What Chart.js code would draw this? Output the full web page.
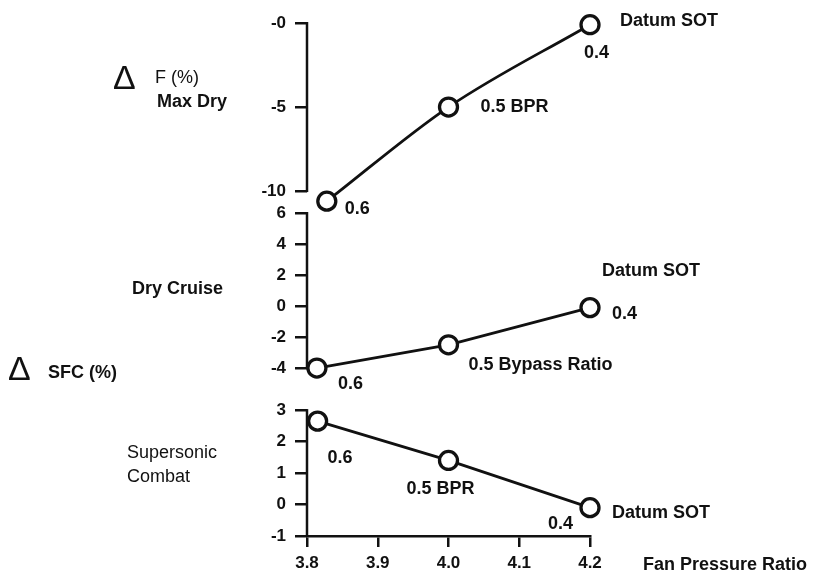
<!DOCTYPE html>
<html>
<head>
<meta charset="utf-8">
<title>Fan pressure ratio trade</title>
<script src="https://cdn.jsdelivr.net/npm/chart.js@4.4.1/dist/chart.umd.min.js"></script>
<style>
  html, body { margin: 0; padding: 0; background: #fff; }
  #wrap { width: 814px; height: 577px; }
</style>
</head>
<body>
<div id="wrap"><canvas id="fan-chart" width="814" height="577"></canvas></div>
<script>
// bypass ratio at each point of the sweep
const bprLabels = ['0.6', '0.5', '0.4'];

// max dry thrust change (%)
const maxDryFPR = [3.828, 4.0, 4.2];
const maxDryThrust = [-10.6, -5.0, -0.1];

// dry cruise SFC change (%)
const cruiseFPR = [3.814, 4.0, 4.2];
const cruiseSFC = [-4.0, -2.5, -0.1];

// supersonic combat SFC change (%)
const combatFPR = [3.815, 4.0, 4.2];
const combatSFC = [2.65, 1.4, -0.1];

const fprTicks = [3.8, 3.9, 4.0, 4.1, 4.2];
const thrustTicks = [0, -5, -10];
const thrustTickLabels = ['-0', '-5', '-10'];
const cruiseTicks = [6, 4, 2, 0, -2, -4];
const combatTicks = [3, 2, 1, 0, -1];

const INK = '#111';
const FONT = '"Liberation Sans", Arial, sans-serif';
Chart.defaults.font.family = FONT;
Chart.defaults.color = INK;

const toPoints = (xs, ys) => xs.map((x, i) => ({ x, y: ys[i] }));

function lineSet(xs, ys, axis, smooth) {
  return {
    data: toPoints(xs, ys),
    yAxisID: axis,
    borderColor: INK,
    borderWidth: 2.8,
    tension: smooth ? 0.4 : 0,
    cubicInterpolationMode: smooth ? 'monotone' : 'default',
    pointRadius: 9,
    pointBorderWidth: 3.3,
    pointBackgroundColor: '#fff',
    pointBorderColor: INK,
    clip: false
  };
}

// one stacked y scale per panel
function panelScale(ticks, labels, min, max, stackWeight, weight) {
  return {
    type: 'linear',
    position: 'left',
    stack: 'panels',
    stackWeight: stackWeight,
    weight: weight,
    min: min,
    max: max,
    border: { display: false },
    grid: { drawOnChartArea: false, tickLength: 12, lineWidth: 2.5, color: INK },
    ticks: {
      padding: 9,
      color: INK,
      autoSkip: false,
      font: { size: 17, weight: 'bold' },
      callback: (v, i) => labels ? labels[i] : String(v)
    },
    afterBuildTicks: s => { s.ticks = ticks.map(v => ({ value: v })); },
    afterFit: s => { s.width = 307; }
  };
}

// labels next to the points: [dataset, point, text, dx, dy]
const pointNotes = [
  [0, 2, 'Datum SOT', 30, -4],
  [0, 2, bprLabels[2], -6, 28],
  [0, 1, bprLabels[1] + ' BPR', 32, 0],
  [0, 0, bprLabels[0], 18, 8],
  [1, 2, 'Datum SOT', 12, -37],
  [1, 2, bprLabels[2], 22, 6],
  [1, 1, bprLabels[1] + ' Bypass Ratio', 20, 20],
  [1, 0, bprLabels[0], 21, 16],
  [2, 2, 'Datum SOT', 22, 5],
  [2, 2, bprLabels[2], -42, 16],
  [2, 1, bprLabels[1] + ' BPR', -42, 29],
  [2, 0, bprLabels[0], 10, 37]
];

const panelDecor = {
  id: 'panelDecor',
  afterDatasetsDraw(chart) {
    const ctx = chart.ctx;
    ctx.save();
    ctx.strokeStyle = INK;
    ctx.fillStyle = INK;

    // axis spine for each panel, only across its tick range
    [['yThrust', thrustTicks], ['yCruise', cruiseTicks], ['yCombat', combatTicks]].forEach(([id, t]) => {
      const s = chart.scales[id];
      ctx.lineWidth = 2.5;
      ctx.beginPath();
      ctx.moveTo(s.right, s.getPixelForValue(Math.max(...t)) - 1);
      ctx.lineTo(s.right, s.getPixelForValue(Math.min(...t)) + 1);
      ctx.stroke();
    });

    ctx.textBaseline = 'middle';
    ctx.textAlign = 'left';

    // point notes
    ctx.font = 'bold 18px ' + FONT;
    pointNotes.forEach(([ds, idx, text, dx, dy]) => {
      const p = chart.getDatasetMeta(ds).data[idx];
      ctx.fillText(text, p.x + dx, p.y + dy);
    });

    // x axis title, on the tick label row
    const xs = chart.scales.x;
    ctx.fillText('Fan Pressure Ratio', xs.right + 53, 565);

    // panel names and quantities
    ctx.font = '34px ' + FONT;
    ctx.fillText('\u0394', 113, 80);
    ctx.fillText('\u0394', 8, 371);

    ctx.font = '18px ' + FONT;
    ctx.fillText('F (%)', 155, 78);
    ctx.fillText('Supersonic', 127, 453);
    ctx.fillText('Combat', 127, 477);

    ctx.font = 'bold 18px ' + FONT;
    ctx.fillText('Max Dry', 157, 102);
    ctx.fillText('Dry Cruise', 132, 289);
    ctx.fillText('SFC (%)', 48, 373);

    ctx.restore();
  }
};

new Chart(document.getElementById('fan-chart'), {
  type: 'line',
  data: {
    datasets: [
      lineSet(maxDryFPR, maxDryThrust, 'yThrust', true),
      lineSet(cruiseFPR, cruiseSFC, 'yCruise', false),
      lineSet(combatFPR, combatSFC, 'yCombat', false)
    ]
  },
  options: {
    responsive: false,
    animation: false,
    events: [],
    layout: { padding: { top: 23, right: 224, bottom: 0, left: 0 } },
    plugins: { legend: { display: false }, tooltip: { enabled: false } },
    scales: {
      x: {
        type: 'linear',
        position: 'bottom',
        min: 3.8,
        max: 4.2,
        border: { display: true, color: INK, width: 2.5 },
        grid: { drawOnChartArea: false, tickLength: 11, lineWidth: 2.5, color: INK },
        ticks: {
          padding: 6,
          color: INK,
          font: { size: 17, weight: 'bold' },
          callback: v => Number(v).toFixed(1)
        },
        afterBuildTicks: s => { s.ticks = fprTicks.map(v => ({ value: v })); },
        afterFit: s => { s.height = 41; }
      },
      yThrust: panelScale(thrustTicks, thrustTickLabels, -10.65, 0, 179, 3),
      yCruise: panelScale(cruiseTicks, null, -5.35, 6.71, 187, 2),
      yCombat: panelScale(combatTicks, null, -1, 3.67, 147, 1)
    }
  },
  plugins: [panelDecor]
});
</script>
</body>
</html>
